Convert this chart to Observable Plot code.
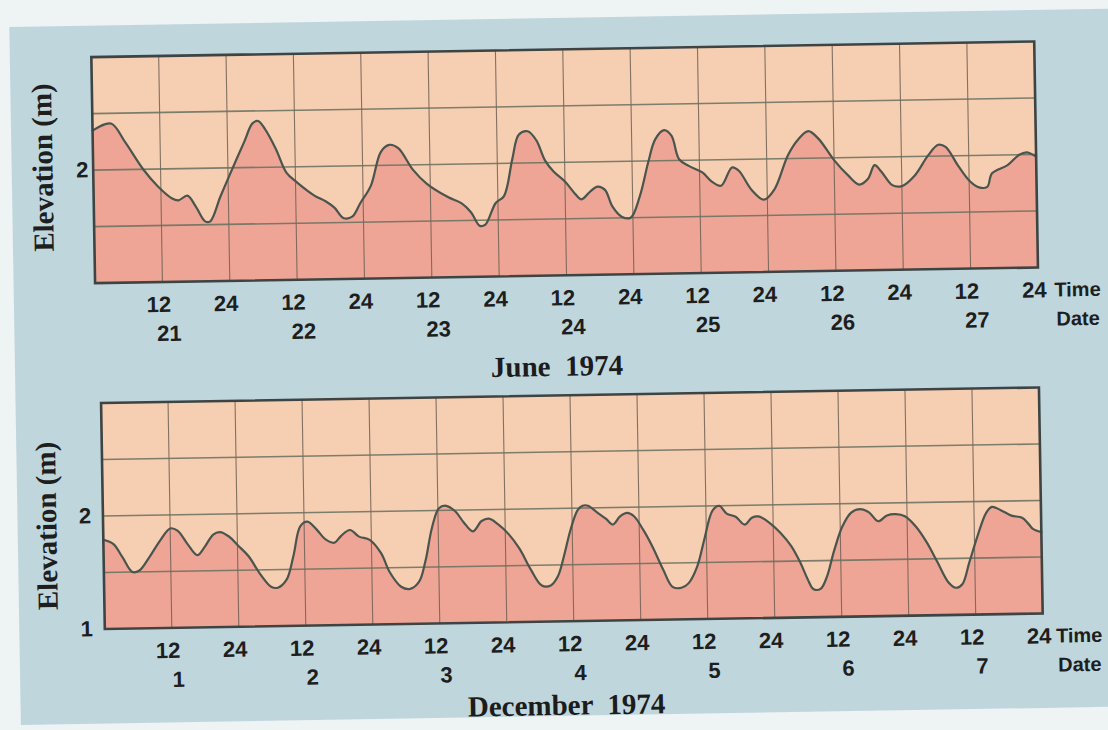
<!DOCTYPE html>
<html>
<head>
<meta charset="utf-8">
<script src="https://cdn.jsdelivr.net/npm/d3@7"></script>
<script src="https://cdn.jsdelivr.net/npm/@observablehq/plot@0.6"></script>
<style>
  html, body { margin: 0; padding: 0; }
  body { width: 1108px; height: 730px; background: #eef3f3; position: relative; overflow: hidden; }
  #page { position: absolute; left: 0; top: 0; width: 1108px; height: 730px; transform: rotate(-0.95deg); transform-origin: 554px 365px; }
  #panel { position: absolute; left: 15px; top: 18px; width: 1130px; height: 698px; background: #bfd6dd; }
  .chart { position: absolute; left: 0; }
  .title { position: absolute; font-family: "Liberation Serif", "Times New Roman", serif; font-weight: bold; font-size: 29px; line-height: 34px; color: #1c1c1c; white-space: pre; transform: translate(-50%, -50%); }
</style>
</head>
<body>
<div id="page">
  <div id="panel"></div>
  <div id="top" class="chart" style="top:0px"></div>
  <div class="title" style="left:557px; top:366px;">June  1974</div>
  <div id="bottom" class="chart" style="top:350px"></div>
  <div class="title" style="left:561px; top:705px;">December  1974</div>
</div>
<script>
// ---- data (hours from start of first day, elevation in m) ----
const juneHours = [0,3.3,5.8,8.9,11.4,13.9,15.1,16.7,18.2,19.8,20.7,22.6,24.5,27.0,28.5,29.5,30.7,32.6,34.4,36.3,39.4,41.3,42.9,44.4,46.0,47.5,49.4,51.3,52.8,54.4,56.9,59.4,63.1,65.6,67.2,68.7,69.7,71.6,73.1,74.7,75.9,77.5,79.0,80.5,82.0,84.0,85.6,86.9,88.5,89.8,91.1,92.4,94.0,95.6,97.3,98.9,100.2,101.8,103.1,104.4,106.1,108.5,110.1,111.8,113.8,115.0,117.2,119.4,121.3,123.8,125.7,127.5,129.3,132.0,134.5,136.4,138.0,139.2,140.4,142.3,144.0,146.3,148.8,150.6,151.9,154.1,156.0,157.6,159.2,160.1,162.9,165.0,166.4,168];
const juneElev  = [2.35,2.41,2.24,2.00,1.85,1.74,1.72,1.76,1.66,1.53,1.53,1.75,1.96,2.23,2.39,2.41,2.34,2.16,1.95,1.86,1.74,1.69,1.63,1.54,1.55,1.67,1.82,2.12,2.18,2.15,1.96,1.83,1.71,1.65,1.57,1.45,1.46,1.65,1.71,2.04,2.25,2.28,2.20,2.02,1.92,1.83,1.73,1.67,1.74,1.78,1.75,1.60,1.51,1.50,1.69,1.99,2.19,2.27,2.22,2.01,1.95,1.89,1.81,1.77,1.93,1.90,1.73,1.64,1.73,2.03,2.17,2.24,2.17,1.98,1.84,1.76,1.81,1.93,1.87,1.75,1.74,1.83,2.01,2.10,2.08,1.91,1.78,1.72,1.72,1.84,1.91,2.00,2.02,1.98];

const decHours = [0,1.8,3.4,5.1,6.3,8.2,10.1,12.0,13.3,15.2,16.8,18.1,19.7,20.9,22.5,24.1,26.0,27.9,29.9,31.1,32.7,34.0,35.3,36.6,38.2,39.8,41.4,42.6,44.2,45.8,47.7,49.7,51.2,53.2,54.8,56.4,57.6,58.9,60.2,61.5,63.1,64.6,66.2,67.8,69.1,70.7,72.6,74.5,76.5,78.4,80.0,81.3,82.4,83.7,85.0,85.9,86.9,88.5,90.1,91.3,92.6,93.9,95.1,96.7,98.3,100.2,101.8,103.4,104.7,106.3,107.6,109.2,110.4,111.7,113.3,114.9,116.2,117.4,119.4,121.3,123.2,124.8,126.0,127.0,128.3,129.5,130.8,132.4,134.0,135.6,137.2,138.8,140.4,142.0,143.6,145.5,147.4,149.3,151.2,152.5,153.7,155.0,156.6,158.2,159.2,160.8,162.7,164.6,165.8,166.5,168];
const decElev  = [1.79,1.75,1.63,1.50,1.51,1.63,1.77,1.88,1.86,1.73,1.64,1.71,1.82,1.84,1.80,1.72,1.62,1.47,1.35,1.34,1.41,1.62,1.88,1.92,1.85,1.76,1.73,1.79,1.84,1.78,1.75,1.63,1.46,1.33,1.31,1.37,1.55,1.85,2.02,2.04,1.99,1.89,1.81,1.90,1.92,1.87,1.78,1.65,1.46,1.32,1.32,1.40,1.57,1.81,1.98,2.02,2.02,1.96,1.90,1.85,1.92,1.95,1.92,1.80,1.65,1.44,1.29,1.28,1.32,1.47,1.70,1.96,2.00,1.93,1.90,1.83,1.89,1.90,1.84,1.75,1.63,1.48,1.34,1.25,1.25,1.36,1.58,1.80,1.92,1.95,1.92,1.84,1.89,1.90,1.88,1.79,1.65,1.47,1.29,1.24,1.27,1.46,1.70,1.90,1.95,1.92,1.87,1.85,1.79,1.75,1.72];

const timeTicks  = [12,24,36,48,60,72,84,96,108,120,132,144,156,168];
const timeLabels = ["12","24","12","24","12","24","12","24","12","24","12","24","12","24"];
const dateTicks  = [12,36,60,84,108,132,156];
const juneDates  = ["21","22","23","24","25","26","27"];
const decDates   = ["1","2","3","4","5","6","7"];
const gridHours  = [12,24,36,48,60,72,84,96,108,120,132,144,156];
const gridElev   = [1.5,2,2.5];
const juneYTicks = [2];
const decYTicks  = [1,2];

const C = {
  peach: "#f6ceb1", pink: "#efa596", line: "#4a554d", gridV: "#6f6055", gridH: "#66705f", frame: "#3d4443", text: "#1e1e1e"
};
const sans = "'Liberation Sans Narrow', 'Liberation Sans', Arial, sans-serif";
const serif = "'Liberation Serif', 'Times New Roman', serif";

function panel({hours, elev, dates, yTicks, m, yTickDx, yLabelY, yLabelDx, endDx}) {
  const data = hours.map((h, i) => ({h, v: elev[i]}));
  const tstyle = {fontSize: 22, fontWeight: "bold", fontFamily: sans, fill: C.text, lineAnchor: "middle"};
  const estyle = {...tstyle, fontSize: 20};
  return Plot.plot({
    width: 1108, height: m.height,
    marginLeft: m.left, marginRight: m.right, marginTop: m.top, marginBottom: m.bottom,
    x: {domain: [0, 168], axis: null},
    y: {domain: [1, 3], axis: null},
    style: {background: "transparent", overflow: "visible", fontFamily: sans},
    marks: [
      Plot.frame({fill: C.peach, stroke: null}),
      Plot.areaY(data, {x: "h", y1: 1, y2: "v", fill: C.pink, curve: "catmull-rom"}),
      Plot.gridX(gridHours, {stroke: C.gridV, strokeOpacity: 0.85, strokeWidth: 1.1}),
      Plot.gridY(gridElev, {stroke: C.gridH, strokeOpacity: 0.85, strokeWidth: 1.6}),
      Plot.lineY(data, {x: "h", y: "v", stroke: C.line, strokeWidth: 2.2, curve: "catmull-rom"}),
      Plot.frame({stroke: C.frame, strokeWidth: 2.6}),
      Plot.text(timeTicks, {x: d => d, text: (d, i) => timeLabels[i], frameAnchor: "bottom", dy: 23, dx: -4, ...tstyle}),
      Plot.text(dateTicks, {x: d => d, text: (d, i) => dates[i], frameAnchor: "bottom", dy: 52, dx: 6, ...tstyle}),
      Plot.text(["Time"], {x: 168, frameAnchor: "bottom", dy: 23, dx: endDx, textAnchor: "start", ...estyle}),
      Plot.text(["Date"], {x: 168, frameAnchor: "bottom", dy: 52, dx: endDx + 45, textAnchor: "end", ...estyle})
      ,
      Plot.text(yTicks, {y: d => d, text: d => String(d), frameAnchor: "left", dx: yTickDx, textAnchor: "middle", ...tstyle}),
      Plot.text(["Elevation (m)"], {y: yLabelY, frameAnchor: "left", dx: yLabelDx, rotate: -90, textAnchor: "middle", lineAnchor: "middle", fontSize: 29, fontWeight: "bold", fontFamily: serif, fill: C.text})
    ]
  });
}

document.getElementById("top").appendChild(panel({
  hours: juneHours, elev: juneElev, dates: juneDates, yTicks: juneYTicks,
  m: {height: 350, left: 96, right: 69, top: 49, bottom: 75},
  yTickDx: -11, yLabelY: 2.03, yLabelDx: -50, endDx: 16
}));
document.getElementById("bottom").appendChild(panel({
  hours: decHours, elev: decElev, dates: decDates, yTicks: decYTicks,
  m: {height: 380, left: 100, right: 70, top: 45, bottom: 109},
  yTickDx: -18, yLabelY: 1.92, yLabelDx: -56, endDx: 13
}));
</script>
</body>
</html>
